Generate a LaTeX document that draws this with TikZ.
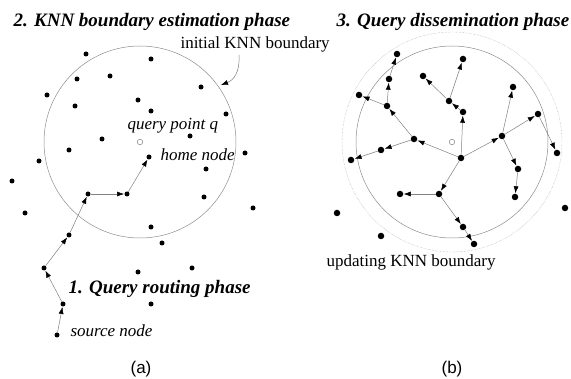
\documentclass[tikz,border=0pt]{standalone}
\usepackage{fontspec}
\setmainfont{Liberation Serif}
\newfontfamily\capfont{Liberation Sans}
\usetikzlibrary{arrows.meta}

\begin{document}
\begin{tikzpicture}[x=1pt,y=-1pt,
  vtx/.style={circle,fill=black,inner sep=0pt,minimum size=5pt},
  vtxb/.style={circle,fill=black,inner sep=0pt,minimum size=6.5pt},
  qpt/.style={circle,draw=gray,fill=white,line width=0.5pt,inner sep=0pt,minimum size=5.5pt},
  hop/.style={draw=gray,line width=0.5pt,-{Latex[length=7pt,width=5pt,color=black]},shorten >=0.3pt},
  bnd/.style={draw=gray!90,line width=0.5pt},
  bndout/.style={draw=gray!80,line width=0.4pt,densely dotted},
  phase/.style={anchor=base west,font=\fontsize{19}{22}\selectfont\bfseries\itshape},
  note/.style={anchor=base west,font=\fontsize{17}{20}\selectfont},
  inote/.style={anchor=base west,font=\fontsize{17}{20}\selectfont\itshape},
  sub/.style={font=\capfont\fontsize{17}{20}\selectfont}
]
\useasboundingbox (0,0) rectangle (571,379);

% ---------------- (a) routing and boundary estimation ----------------
\node[qpt] (qa) at (140,142) {};
\draw[bnd] (qa.center) circle[radius=96pt];

\foreach \n/\p in {a1/{86,54},a2/{151,59},a3/{77,79},a4/{110,76},a5/{201,87},
  a6/{47,95},a7/{75,106},a8/{138,100},a9/{151,111},a10/{226,114},a11/{190,136},
  a12/{102,139},a13/{69,150},a14/{39,161},a15/{245,153},a16/{206,169},a17/{12,181},
  a19/{204,197},a20/{25,213},a21/{253,208},a22/{151,227},a23/{162,243},
  a24/{138,272},a25/{192,268},a26/{151,304}}
  \node[vtx] (\n) at (\p) {};

\node[vtx] (src) at (57,335) {};
\node[vtx] (r1) at (63,304) {};
\node[vtx] (r2) at (44,268) {};
\node[vtx] (r3) at (69,235) {};
\node[vtx] (r4) at (88,194) {};
\node[vtx] (r5) at (127,194) {};
\node[vtx] (home) at (149,157) {};

\draw[hop] (src) -- (r1);
\draw[hop] (r1) -- (r2);
\draw[hop] (r2) -- (r3);
\draw[hop] (r3) -- (r4);
\draw[hop] (r4) -- (r5);
\draw[hop] (r5) -- (home);

\node[phase] (t2) at (10,27) {2. KNN boundary estimation phase};
\node[note] (initb) at (177,49) {initial KNN boundary};
\coordinate (kstart) at (239,55);
\coordinate (ktip) at (221,85);
\draw[draw=gray,line width=0.5pt,-{Latex[length=7pt,width=5pt,color=black]}]
  (kstart) .. controls (240,72) and (234,80) .. (ktip);

\node[inote] (ql) at (124,130) {query point \textit{q}};
\node[inote] (hl) at (157,161) {home node};
\node[phase] (t1) at (65,294) {1. Query routing phase};
\node[inote] (sl) at (67,337) {source node};
\node[sub] (capa) at (141,369) {(a)};

% ---------------- (b) dissemination ----------------
\node[qpt] (qb) at (452,142) {};
\draw[bnd] (qb.center) circle[radius=96pt];
\draw[bndout] (qb.center) circle[radius=110pt];

\foreach \n/\p in {R/{461,158},A/{397,54},B/{389,79},C/{359,95},D/{387,106},
  E/{414,139},F/{381,150},G/{351,160},H/{423,76},I/{463,59},J/{449,101},
  K/{463,112},L/{513,87},M/{502,136},N/{538,114},O/{557,153},P/{518,169},
  Q/{515,197},S/{439,194},T/{400,194},U/{463,227},V/{474,244},
  X1/{337,213},X2/{381,236},X3/{565,208}}
  \node[vtxb] (\n) at (\p) {};

\foreach \u/\v in {R/E,E/F,F/G,E/D,D/C,D/B,B/A,R/K,K/J,J/H,J/I,
  R/M,M/N,M/L,N/O,M/P,P/Q,R/S,S/T,S/U,U/V}
  \draw[hop] (\u) -- (\v);

\node[phase] (t3) at (333,27) {3. Query dissemination phase};
\node[note] (updb) at (323,267) {updating KNN boundary};
\node[sub] (capb) at (452,369) {(b)};
\end{tikzpicture}
\end{document}
